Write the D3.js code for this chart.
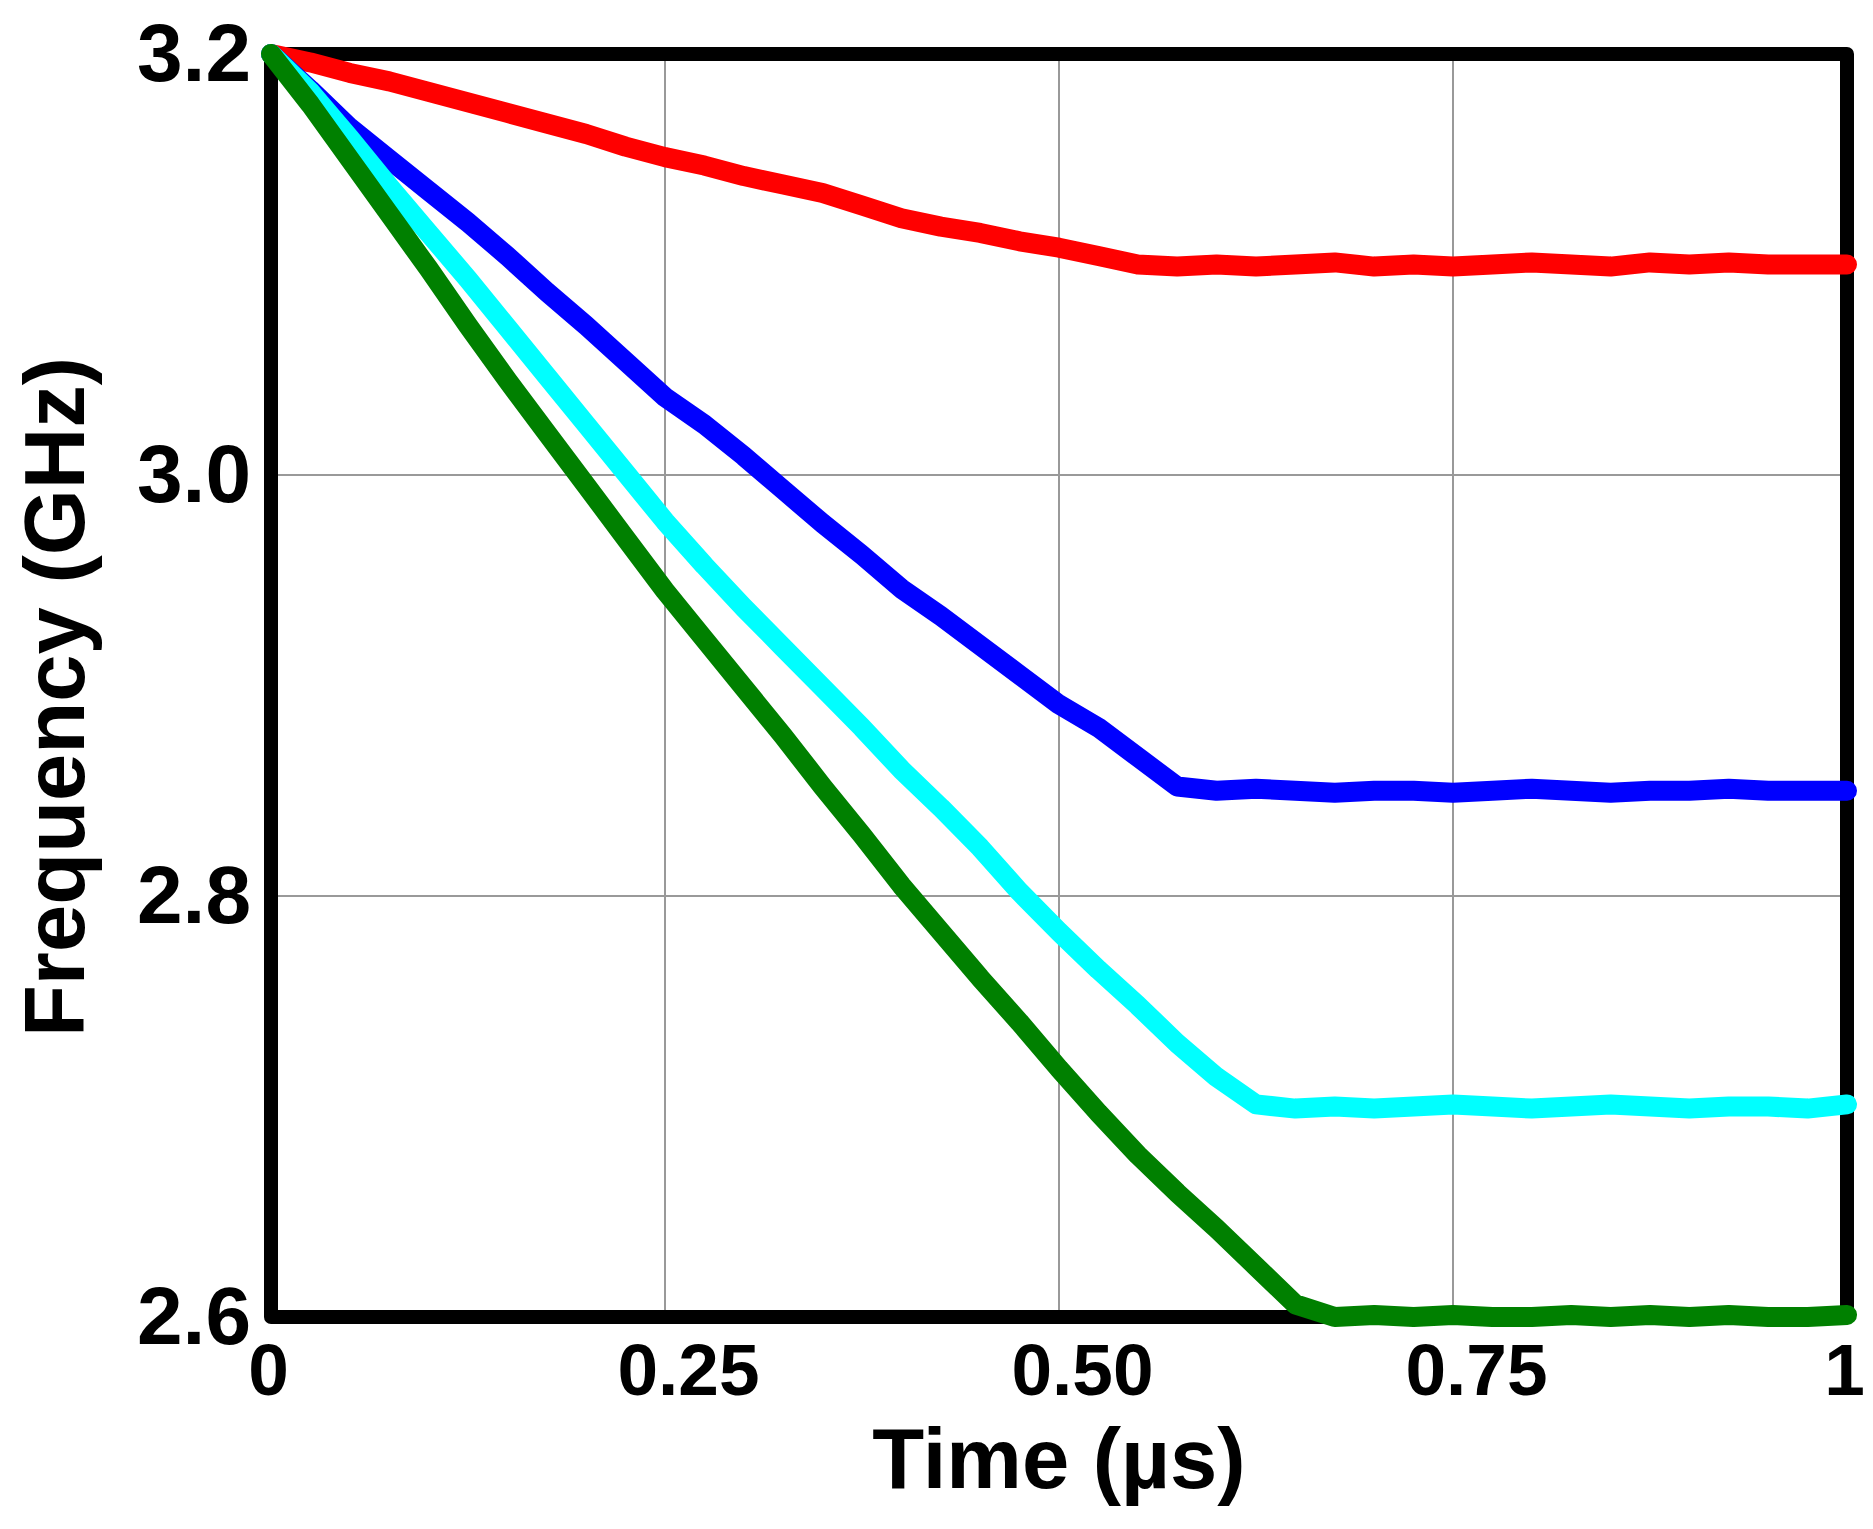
<!DOCTYPE html>
<html>
<head>
<meta charset="utf-8">
<script src="https://cdn.jsdelivr.net/npm/d3@7"></script>
<style>
  body { margin: 0; background: #fff; }
  text { font-family: "Liberation Sans", Arial, sans-serif; font-weight: bold; fill: #000; }
</style>
</head>
<body>
<div id="chart"></div>
<script>
// time in us, frequency in GHz
var times = [0, 0.025, 0.05, 0.075, 0.1, 0.125, 0.15, 0.175, 0.2, 0.225,
  0.25, 0.275, 0.3, 0.325, 0.35, 0.375, 0.4, 0.425, 0.45, 0.475,
  0.5, 0.525, 0.55, 0.575, 0.6, 0.625, 0.65, 0.675, 0.7, 0.725,
  0.75, 0.775, 0.8, 0.825, 0.85, 0.875, 0.9, 0.925, 0.95, 0.975, 1];

var redFreq = [3.200, 3.196, 3.191, 3.187, 3.182, 3.177, 3.172, 3.167, 3.162, 3.156,
  3.151, 3.147, 3.142, 3.138, 3.134, 3.128, 3.122, 3.118, 3.115, 3.111,
  3.108, 3.104, 3.100, 3.099, 3.100, 3.099, 3.100, 3.101, 3.099, 3.100,
  3.099, 3.100, 3.101, 3.100, 3.099, 3.101, 3.100, 3.101, 3.100, 3.100, 3.100];

var blueFreq = [3.200, 3.183, 3.165, 3.150, 3.135, 3.120, 3.104, 3.087, 3.071, 3.054,
  3.037, 3.024, 3.009, 2.993, 2.977, 2.962, 2.946, 2.933, 2.919, 2.905,
  2.891, 2.880, 2.866, 2.852, 2.850, 2.851, 2.850, 2.849, 2.850, 2.850,
  2.849, 2.850, 2.851, 2.850, 2.849, 2.850, 2.850, 2.851, 2.850, 2.850, 2.850];

var cyanFreq = [3.200, 3.182, 3.160, 3.137, 3.115, 3.093, 3.070, 3.047, 3.024, 3.001,
  2.978, 2.957, 2.937, 2.918, 2.899, 2.880, 2.860, 2.842, 2.823, 2.802,
  2.783, 2.765, 2.748, 2.730, 2.714, 2.701, 2.699, 2.700, 2.699, 2.700,
  2.701, 2.700, 2.699, 2.700, 2.701, 2.700, 2.699, 2.700, 2.700, 2.699, 2.701];

var greenFreq = [3.200, 3.176, 3.150, 3.124, 3.098, 3.071, 3.045, 3.020, 2.995, 2.970,
  2.945, 2.922, 2.899, 2.876, 2.852, 2.829, 2.805, 2.783, 2.761, 2.740,
  2.718, 2.697, 2.677, 2.659, 2.642, 2.624, 2.606, 2.600, 2.601, 2.600,
  2.601, 2.600, 2.600, 2.601, 2.600, 2.601, 2.600, 2.601, 2.600, 2.600, 2.601];

var xTicks = [0, 0.25, 0.5, 0.75, 1];
var xTickLabels = ["0", "0.25", "0.50", "0.75", "1"];
var yTicks = [2.6, 2.8, 3.0, 3.2];
var yTickLabels = ["2.6", "2.8", "3.0", "3.2"];

(function() {
  var margin = { top: 54, left: 271, right: 26, bottom: 212 },
    width = 1873 - margin.left - margin.right,
    height = 1529 - margin.top - margin.bottom;

  var svg = d3.select("#chart")
    .append("svg")
    .attr("width", width + margin.left + margin.right)
    .attr("height", height + margin.top + margin.bottom)
    .append("g")
    .attr("transform", "translate(" + margin.left + "," + margin.top + ")");

  var x = d3.scaleLinear().domain([0, 1]).range([0, width]);
  var y = d3.scaleLinear().domain([2.6, 3.2]).range([height, 0]);

  // grid
  svg.selectAll(".vgrid")
    .data(xTicks.slice(1, -1))
    .enter().append("line")
    .attr("x1", function(d) { return x(d); })
    .attr("x2", function(d) { return x(d); })
    .attr("y1", 0)
    .attr("y2", height)
    .attr("stroke", "#999")
    .attr("stroke-width", 2);

  svg.selectAll(".hgrid")
    .data(yTicks.slice(1, -1))
    .enter().append("line")
    .attr("x1", 0)
    .attr("x2", width)
    .attr("y1", function(d) { return y(d); })
    .attr("y2", function(d) { return y(d); })
    .attr("stroke", "#999")
    .attr("stroke-width", 2);

  // axes (labels only)
  var xAxis = svg.append("g")
    .attr("transform", "translate(0," + height + ")")
    .call(d3.axisBottom(x)
      .tickValues(xTicks)
      .tickFormat(function(d, i) { return xTickLabels[i]; })
      .tickSize(0)
      .tickPadding(26));
  xAxis.select(".domain").remove();
  xAxis.selectAll("text")
    .style("font-size", "73px")
    .attr("dx", function(d, i) { return xTickLabels[i].length > 1 ? 23 : -3; });

  var yAxis = svg.append("g")
    .call(d3.axisLeft(y)
      .tickValues(yTicks)
      .tickFormat(function(d, i) { return yTickLabels[i]; })
      .tickSize(0)
      .tickPadding(20));
  yAxis.select(".domain").remove();
  yAxis.selectAll("text").style("font-size", "82px");

  // frame
  svg.append("rect")
    .attr("width", width)
    .attr("height", height)
    .attr("fill", "none")
    .attr("stroke", "#000")
    .attr("stroke-width", 14)
    .attr("stroke-linejoin", "round");

  var line = d3.line()
    .x(function(d) { return x(d[0]); })
    .y(function(d) { return y(d[1]); });

  var series = [
    { color: "#ff0000", values: redFreq },
    { color: "#0000ff", values: blueFreq },
    { color: "#00ffff", values: cyanFreq },
    { color: "#008000", values: greenFreq }
  ];

  svg.selectAll(".trace")
    .data(series)
    .enter().append("path")
    .attr("class", "trace")
    .attr("d", function(s) {
      return line(s.values.map(function(v, i) { return [times[i], v]; }));
    })
    .attr("fill", "none")
    .attr("stroke", function(s) { return s.color; })
    .attr("stroke-width", 20)
    .attr("stroke-linejoin", "round")
    .attr("stroke-linecap", "round");

  // titles
  svg.append("text")
    .attr("x", width / 2)
    .attr("y", 1488 - margin.top)
    .attr("text-anchor", "middle")
    .style("font-size", "85px")
    .text("Time (µs)");

  svg.append("text")
    .attr("transform", "translate(" + (84 - margin.left) + "," + (697 - margin.top) + ") rotate(-90)")
    .attr("text-anchor", "middle")
    .style("font-size", "85px")
    .text("Frequency (GHz)");
})();
</script>
</body>
</html>
